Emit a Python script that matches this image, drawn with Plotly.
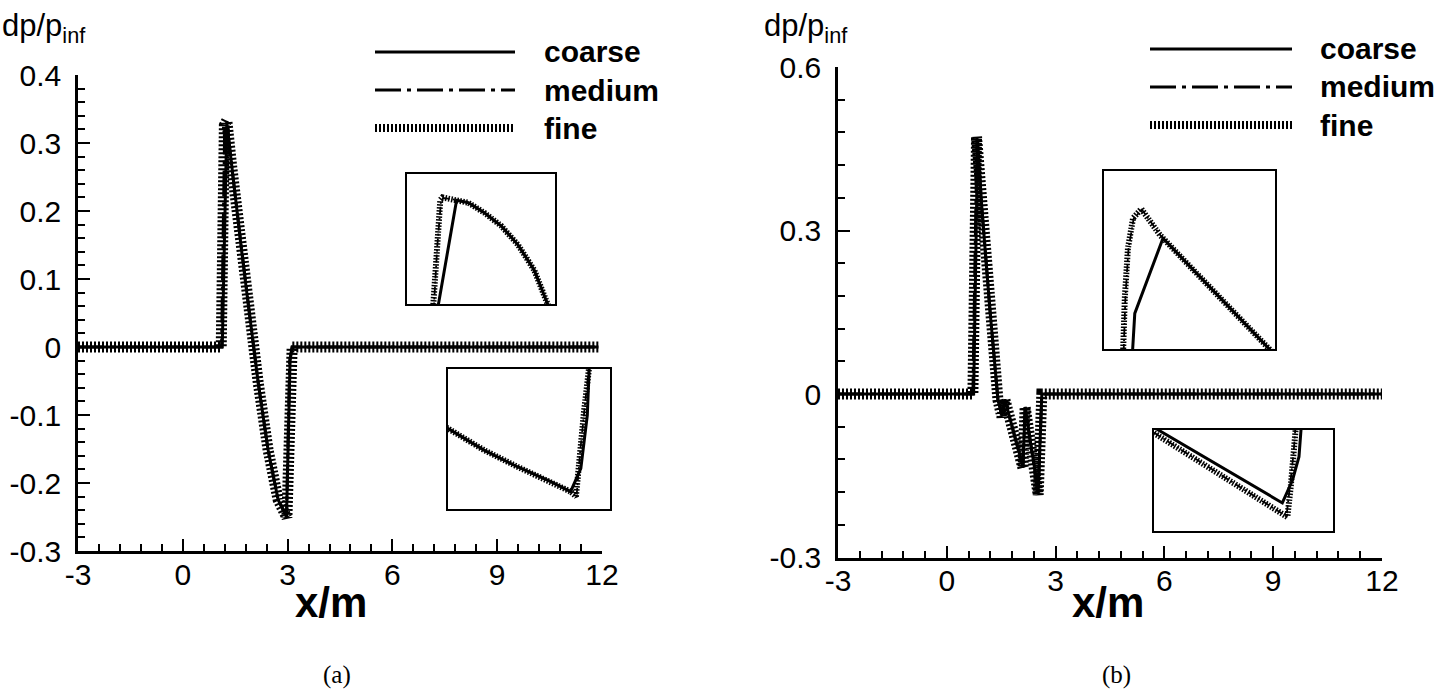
import plotly.graph_objects as go

W, H = 1440, 691

# ---------------- data: panel (a) ----------------
a_coarse_x = [-3, 1.13, 1.26, 1.40, 1.68, 1.92, 2.16, 2.44, 2.73, 2.97, 3.07, 3.13, 11.9]
a_coarse_y = [0, 0, 0.330, 0.265, 0.143, 0.044, -0.053, -0.151, -0.225, -0.248, -0.02, 0, 0]
a_medium_x = [-3, 1.11, 1.20, 1.26, 1.40, 1.68, 1.92, 2.16, 2.44, 2.73, 2.97, 3.06, 3.13, 11.9]
a_medium_y = [0, 0, 0.325, 0.332, 0.265, 0.143, 0.044, -0.053, -0.151, -0.225, -0.250, -0.02, 0, 0]
a_fine_x = [-3, 1.10, 1.19, 1.26, 1.40, 1.68, 1.92, 2.16, 2.44, 2.73, 2.98, 3.05, 3.13, 11.9]
a_fine_y = [0, 0, 0.326, 0.333, 0.265, 0.143, 0.044, -0.053, -0.151, -0.225, -0.251, -0.02, 0, 0]

# inset (a) upper: peak region
ia1_coarse_x = [1.182, 1.234, 1.266, 1.310, 1.355, 1.400, 1.444, 1.482]
ia1_coarse_y = [0.256, 0.3238, 0.3223, 0.3160, 0.3080, 0.2964, 0.2808, 0.2588]
ia1_fine_x = [1.170, 1.180, 1.190, 1.196, 1.220, 1.234, 1.266, 1.310, 1.355, 1.400, 1.444, 1.482]
ia1_fine_y = [0.256, 0.296, 0.324, 0.3256, 0.3248, 0.3238, 0.3223, 0.3160, 0.3080, 0.2964, 0.2808, 0.2588]
ia1_medium_x = [1.172, 1.182, 1.192, 1.198, 1.222, 1.234, 1.266, 1.310, 1.355, 1.400, 1.444, 1.482]
ia1_medium_y = [0.256, 0.296, 0.3235, 0.3252, 0.3245, 0.3238, 0.3223, 0.3160, 0.3080, 0.2964, 0.2808, 0.2588]

# inset (a) lower: trough region
ia2_coarse_x = [2.19, 2.422, 2.628, 2.834, 2.957, 3.020, 3.060, 3.072]
ia2_coarse_y = [-0.2018, -0.2179, -0.2298, -0.2405, -0.2476, -0.2310, -0.1930, -0.1580]
ia2_fine_x = [2.19, 2.422, 2.628, 2.834, 2.957, 2.990, 3.010, 3.040, 3.072]
ia2_fine_y = [-0.2018, -0.2179, -0.2298, -0.2405, -0.2476, -0.2510, -0.2250, -0.1900, -0.1580]
ia2_medium_x = [2.19, 2.422, 2.628, 2.834, 2.957, 2.995, 3.015, 3.045, 3.070]
ia2_medium_y = [-0.2018, -0.2179, -0.2298, -0.2405, -0.2476, -0.2490, -0.2200, -0.1850, -0.1580]

# ---------------- data: panel (b) ----------------
b_coarse_x = [-3, 0.74, 0.85, 0.97, 1.19, 1.41, 1.52, 1.60, 2.10, 2.16, 2.52, 2.62, 12]
b_coarse_y = [0, 0, 0.465, 0.338, 0.154, -0.011, -0.040, -0.010, -0.133, -0.024, -0.180, 0, 0]
b_medium_x = [-3, 0.72, 0.83, 0.97, 1.19, 1.41, 1.52, 1.60, 2.10, 2.16, 2.52, 2.62, 12]
b_medium_y = [0, 0, 0.470, 0.338, 0.154, -0.011, -0.040, -0.010, -0.135, -0.024, -0.183, 0, 0]
b_fine_x = [-3, 0.72, 0.82, 0.97, 1.19, 1.41, 1.52, 1.60, 2.10, 2.16, 2.52, 2.62, 12]
b_fine_y = [0, 0, 0.472, 0.338, 0.154, -0.011, -0.042, -0.010, -0.136, -0.024, -0.185, 0, 0]

# inset (b) upper: peak region
ib1_coarse_x = [0.800, 0.808, 0.907, 1.000, 1.100, 1.200, 1.290]
ib1_coarse_y = [0.195, 0.260, 0.3866, 0.3400, 0.2900, 0.2400, 0.1950]
ib1_fine_x = [0.767, 0.773, 0.784, 0.802, 0.831, 0.896, 1.000, 1.100, 1.200, 1.290]
ib1_fine_y = [0.195, 0.2858, 0.3698, 0.4205, 0.4361, 0.3923, 0.3400, 0.2900, 0.2400, 0.1950]
ib1_medium_x = [0.769, 0.775, 0.786, 0.804, 0.833, 0.898, 1.000, 1.100, 1.200, 1.290]
ib1_medium_y = [0.195, 0.2858, 0.3690, 0.4195, 0.4350, 0.3915, 0.3400, 0.2900, 0.2400, 0.1950]

# inset (b) lower: second trough region
ib2_coarse_x = [1.80, 2.517, 2.574, 2.610, 2.622]
ib2_coarse_y = [-0.0975, -0.1722, -0.1495, -0.1264, -0.0980]
ib2_fine_x = [1.80, 2.545, 2.564, 2.583, 2.592]
ib2_fine_y = [-0.1030, -0.1862, -0.1560, -0.1230, -0.0980]
ib2_medium_x = [1.80, 2.540, 2.560, 2.580, 2.590]
ib2_medium_y = [-0.1026, -0.1855, -0.1550, -0.1225, -0.0980]

# ---------------- ticks / labels ----------------
a_ytickvals = [-0.3, -0.2, -0.1, 0, 0.1, 0.2, 0.3, 0.4]
a_yticktext = ["-0.3", "-0.2", "-0.1", "0", "0.1", "0.2", "0.3", "0.4"]
b_ytickvals = [-0.3, 0, 0.3, 0.6]
b_yticktext = ["-0.3", "0", "0.3", "0.6"]
xtickvals = [-3, 0, 3, 6, 9, 12]
xticktext = ["-3", "0", "3", "6", "9", "12"]
series_names = ["coarse", "medium", "fine"]

SANS = "Arial, Liberation Sans, sans-serif"
SERIF = "Times New Roman, Liberation Serif, serif"

def px(x):
    return x / W

def py(y):
    return 1 - y / H

COARSE = dict(color="black", width=3)
MEDIUM = dict(color="black", width=3, dash="26px,6px,4px,6px")
FINE = dict(color="black", width=11, dash="2px,2px")
COARSE_IN = dict(color="black", width=3)
MEDIUM_IN = dict(color="black", width=1.8, dash="8px,3px,2px,3px")
FINE_IN = dict(color="black", width=6, dash="1.5px,1.5px")

fig = go.Figure()

for (x, y, st) in [(a_fine_x, a_fine_y, FINE), (a_medium_x, a_medium_y, MEDIUM), (a_coarse_x, a_coarse_y, COARSE)]:
    fig.add_trace(go.Scatter(x=x, y=y, mode="lines", line=st, xaxis="x", yaxis="y",
                             showlegend=False, hoverinfo="skip"))
for (x, y, st) in [(b_fine_x, b_fine_y, FINE), (b_medium_x, b_medium_y, MEDIUM), (b_coarse_x, b_coarse_y, COARSE)]:
    fig.add_trace(go.Scatter(x=x, y=y, mode="lines", line=st, xaxis="x2", yaxis="y2",
                             showlegend=False, hoverinfo="skip"))
insets = [
    ("x3", "y3", ia1_fine_x, ia1_fine_y, ia1_medium_x, ia1_medium_y, ia1_coarse_x, ia1_coarse_y),
    ("x4", "y4", ia2_fine_x, ia2_fine_y, ia2_medium_x, ia2_medium_y, ia2_coarse_x, ia2_coarse_y),
    ("x5", "y5", ib1_fine_x, ib1_fine_y, ib1_medium_x, ib1_medium_y, ib1_coarse_x, ib1_coarse_y),
    ("x6", "y6", ib2_fine_x, ib2_fine_y, ib2_medium_x, ib2_medium_y, ib2_coarse_x, ib2_coarse_y),
]
for xa, ya, fx, fy, mx, my, cx, cy in insets:
    for (x, y, st) in [(fx, fy, FINE_IN), (mx, my, MEDIUM_IN), (cx, cy, COARSE_IN)]:
        fig.add_trace(go.Scatter(x=x, y=y, mode="lines", line=st, xaxis=xa, yaxis=ya,
                                 showlegend=False, hoverinfo="skip"))

tickfont = dict(family=SANS, size=30, color="black")

def main_x(dom, anchor):
    return dict(domain=dom, anchor=anchor, range=[-3, 12], showline=True, linewidth=2.5,
                linecolor="black", ticks="inside", ticklen=12, tickwidth=2, tickcolor="black",
                tickvals=xtickvals, ticktext=xticktext, tickfont=tickfont, automargin=False,
                minor=dict(dtick=0.6, ticks="inside", ticklen=7, tickwidth=1.5, tickcolor="black", showgrid=False),
                showgrid=False, zeroline=False, ticklabelstandoff=-5, fixedrange=True)

def main_y(dom, anchor, rng, tv, tt, mdt):
    return dict(domain=dom, anchor=anchor, range=rng, showline=True, linewidth=2.5,
                linecolor="black", ticks="inside", ticklen=12, tickwidth=2, tickcolor="black",
                tickvals=tv, ticktext=tt, tickfont=tickfont, tick0=0, automargin=False,
                minor=dict(tick0=0, dtick=mdt, ticks="inside", ticklen=7, tickwidth=1.5, tickcolor="black", showgrid=False),
                showgrid=False, zeroline=False, ticklabelstandoff=8, fixedrange=True)

def inset_ax(dom, anchor, rng):
    return dict(domain=dom, anchor=anchor, range=rng, showline=True, mirror=True, linewidth=1.8,
                linecolor="black", ticks="", showticklabels=False, showgrid=False, zeroline=False,
                automargin=False, fixedrange=True)

layout = dict(
    width=W, height=H, margin=dict(l=0, r=0, t=0, b=0, autoexpand=False),
    paper_bgcolor="white", plot_bgcolor="rgba(0,0,0,0)", showlegend=False,
    xaxis=main_x([px(78), px(602)], "y"),
    yaxis=main_y([py(551), py(75)], "x", [-0.3, 0.4], a_ytickvals, a_yticktext, 0.02),
    xaxis2=main_x([px(838), px(1382)], "y2"),
    yaxis2=main_y([py(557.5), py(67)], "x2", [-0.3, 0.6], b_ytickvals, b_yticktext, 0.06),
    xaxis3=inset_ax([px(407), px(555)], "y3", [1.1, 1.5]),
    yaxis3=inset_ax([py(304), py(174)], "x3", [0.26, 0.34]),
    xaxis4=inset_ax([px(448), px(610)], "y4", [2.2, 3.2]),
    yaxis4=inset_ax([py(509), py(369)], "x4", [-0.26, -0.16]),
    xaxis5=inset_ax([px(1104), px(1275)], "y5", [0.7, 1.3]),
    yaxis5=inset_ax([py(349), py(171)], "x5", [0.2, 0.5]),
    xaxis6=inset_ax([px(1154), px(1333)], "y6", [1.8, 2.8]),
    yaxis6=inset_ax([py(531), py(430)], "x6", [-0.2, -0.1]),
)
fig.update_layout(**layout)

shapes = []
for (x0, x1, y0, y1) in [(407, 555, 174, 304), (448, 610, 369, 509), (1104, 1275, 171, 349), (1154, 1333, 430, 531)]:
    shapes.append(dict(type="rect", xref="paper", yref="paper", x0=px(x0), x1=px(x1),
                       y0=py(y1), y1=py(y0), fillcolor="white", line=dict(width=0), layer="below"))

annotations = []
legend_specs = [
    (375, 515, 542, [52, 90, 128]),
    (1150, 1292, 1318, [49, 87, 125]),
]
leg_styles = [dict(color="black", width=3), dict(color="black", width=3, dash="26px,6px,4px,6px"),
              dict(color="black", width=8, dash="2px,2px")]
for (lx0, lx1, tx, rows) in legend_specs:
    for name, yy, st in zip(series_names, rows, leg_styles):
        shapes.append(dict(type="line", xref="paper", yref="paper", x0=px(lx0), x1=px(lx1),
                           y0=py(yy), y1=py(yy), line=st))
        annotations.append(dict(text="<b>%s</b>" % name, xref="paper", yref="paper", x=px(tx), y=py(yy),
                                xanchor="left", yanchor="middle", showarrow=False,
                                font=dict(family=SANS, size=30, color="black")))

for (xx, yy, t) in [(0, 28, "dp/p<sub>inf</sub>"), (762, 28, "dp/p<sub>inf</sub>")]:
    annotations.append(dict(text=t, xref="paper", yref="paper", x=px(xx), y=py(yy), xanchor="left",
                            yanchor="middle", showarrow=False, font=dict(family=SANS, size=31, color="black")))
for (xx, yy) in [(331, 602), (1108, 602)]:
    annotations.append(dict(text="<b>x/m</b>", xref="paper", yref="paper", x=px(xx), y=py(yy), xanchor="center",
                            yanchor="middle", showarrow=False, font=dict(family=SANS, size=42, color="black")))
for (xx, yy, t) in [(337, 675, "(a)"), (1116, 675, "(b)")]:
    annotations.append(dict(text=t, xref="paper", yref="paper", x=px(xx), y=py(yy), xanchor="center",
                            yanchor="middle", showarrow=False, font=dict(family=SERIF, size=25, color="black")))

fig.update_layout(shapes=shapes, annotations=annotations)
fig.write_html("out.html", config={"displayModeBar": False},
               post_script="document.body.style.margin='0';document.body.style.overflow='hidden';")
